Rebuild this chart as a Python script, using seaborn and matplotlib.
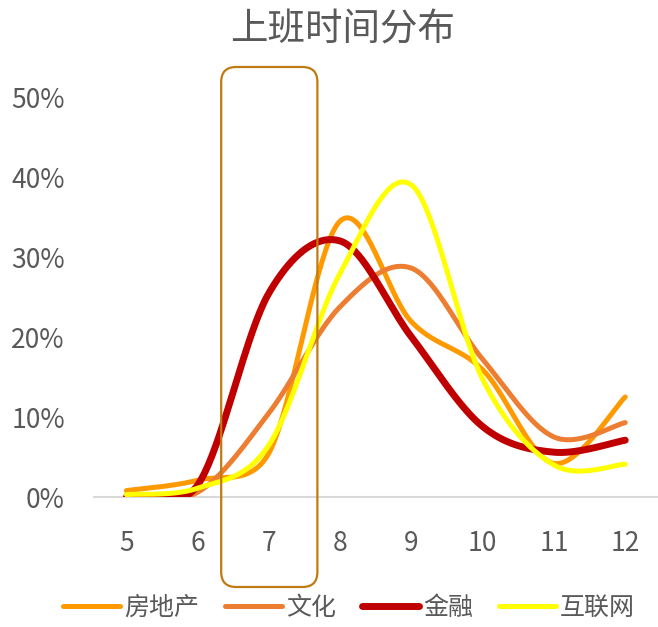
import numpy as np
import pandas as pd
import matplotlib
matplotlib.use("Agg")
import matplotlib.pyplot as plt
import seaborn as sns
from matplotlib.patches import FancyBboxPatch
from matplotlib.ticker import PercentFormatter
from matplotlib.lines import Line2D

# ---- data ----
hours = [5, 6, 7, 8, 9, 10, 11, 12]
series_names = ["房地产", "文化", "金融", "互联网"]
real_estate = [0.008, 0.021, 0.055, 0.345, 0.219, 0.159, 0.042, 0.125]
culture = [0.003, 0.006, 0.105, 0.238, 0.286, 0.172, 0.075, 0.093]
finance = [0.000, 0.015, 0.255, 0.320, 0.200, 0.088, 0.056, 0.071]
internet = [0.003, 0.011, 0.065, 0.280, 0.390, 0.147, 0.040, 0.041]
title = "上班时间分布"

colors = ["#FF9900", "#ED7D31", "#C00000", "#FFFF00"]
widths = [3.6, 3.6, 5.0, 3.6]

sns.set_theme(style="white")
plt.rcParams["font.family"] = ["Noto Sans CJK SC", "DejaVu Sans"]

# screen scale (pixels per unit) used by the smoothing, like Excel does it on screen
SX, SY = 71.3, 800.0


def smooth(xs, ys, n=40):
    """Excel-style smoothed line: Bezier segments with capped arms."""
    P = np.column_stack([np.asarray(xs, float) * SX, np.asarray(ys, float) * SY])
    m = len(P)
    t = np.linspace(0, 1, n)[:, None]
    out = []
    for i in range(m - 1):
        p0 = P[i - 1] if i > 0 else P[i]
        p1, p2 = P[i], P[i + 1]
        p3 = P[i + 2] if i + 2 < m else P[i + 1]
        d12 = np.linalg.norm(p2 - p1)
        d02 = np.linalg.norm(p2 - p0)
        d13 = np.linalg.norm(p3 - p1)
        f0 = 1 / 6 if d02 / 6 < d12 / 2 else d12 / (2 * d02)
        f1 = 1 / 6 if d13 / 6 < d12 / 2 else d12 / (2 * d13)
        c1 = p1 + (p2 - p0) * f0
        c2 = p2 - (p3 - p1) * f1
        b = (1 - t) ** 3 * p1 + 3 * (1 - t) ** 2 * t * c1 + 3 * (1 - t) * t ** 2 * c2 + t ** 3 * p2
        out.append(b if i == 0 else b[1:])
    b = np.vstack(out)
    return b[:, 0] / SX, np.maximum(b[:, 1] / SY, 0)


fig = plt.figure(figsize=(6.58, 6.27), dpi=100)
ax = fig.add_axes([94 / 658, (627 - 497) / 627, 1 - 94 / 658, (497 - 97) / 627])

for name, vals, c, lw in zip(series_names, [real_estate, culture, finance, internet], colors, widths):
    sx, sy = smooth(hours, vals)
    df = pd.DataFrame({"x": sx, "y": sy})
    sns.lineplot(data=df, x="x", y="y", ax=ax, color=c, linewidth=lw, sort=False,
                 estimator=None, solid_capstyle="round", solid_joinstyle="round")

ax.set_xlim(4.545, 12.46)
ax.set_ylim(0, 0.5)
ax.set_xticks(hours)
ax.set_xticklabels([str(h) for h in hours])
ax.set_yticks([0, 0.1, 0.2, 0.3, 0.4, 0.5])
ax.yaxis.set_major_formatter(PercentFormatter(1.0, decimals=0))
ax.set_xlabel("")
ax.set_ylabel("")
for s in ["top", "right", "left"]:
    ax.spines[s].set_visible(False)
ax.spines["bottom"].set_color("#D9D9D9")
ax.spines["bottom"].set_linewidth(1.5)
ax.spines["bottom"].set_zorder(0)
ax.tick_params(axis="x", length=0, pad=24, labelsize=19, labelcolor="#595959")
ax.tick_params(axis="y", length=0, pad=21, labelsize=19, labelcolor="#595959")
ax.grid(False)

# highlight rectangle (pixel coordinates)
fig.canvas.draw()
x0 = ax.transData.transform((6.33, 0))[0]
x1 = ax.transData.transform((7.68, 0))[0]
y0 = 627 - 587
y1 = 627 - 67
rect = FancyBboxPatch((x0, y0), x1 - x0, y1 - y0,
                      boxstyle="round,pad=0,rounding_size=15",
                      transform=None, fill=False, edgecolor="#BF7A12",
                      linewidth=1.6, clip_on=False, zorder=5)
fig.add_artist(rect)

fig.text(343 / 658, 1 - 30 / 627, title, ha="center", va="center",
         fontsize=27, color="#595959")

handles = [Line2D([0], [0], color=c, linewidth=lw, solid_capstyle="round")
           for c, lw in zip(colors, widths)]
fig.legend(handles, series_names, loc="center", bbox_to_anchor=(0.53, 19 / 627),
           ncol=4, frameon=False, fontsize=18, labelcolor="#595959",
           handlelength=2.28, handletextpad=0.16, columnspacing=1.04,
           borderpad=0, borderaxespad=0)

fig.savefig("out.png", dpi=100)
